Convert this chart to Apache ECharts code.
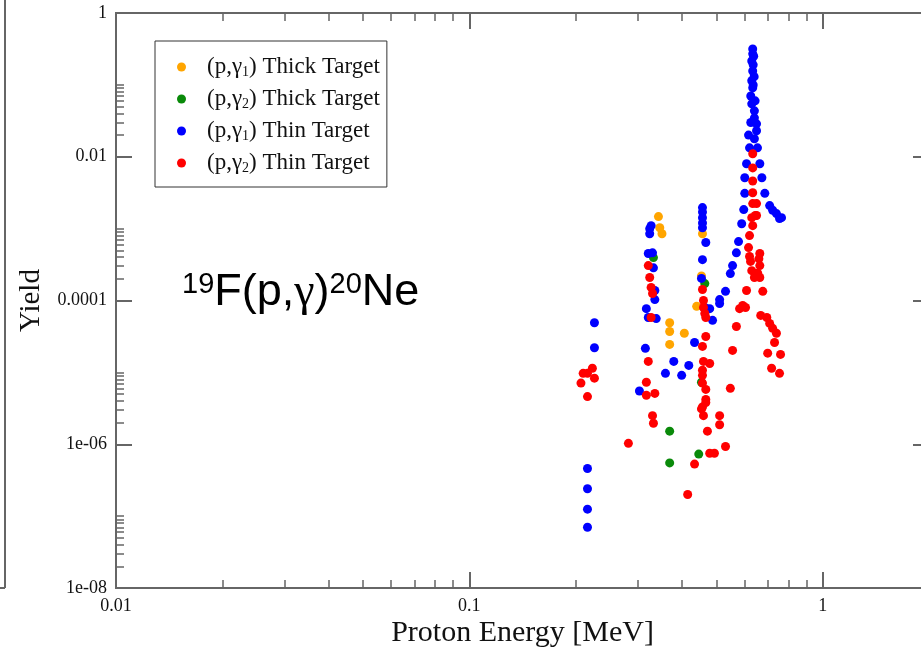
<!DOCTYPE html>
<html>
<head>
<meta charset="utf-8">
<script src="https://cdn.jsdelivr.net/npm/echarts@6/dist/echarts.min.js"></script>
<style>
  html, body { margin: 0; padding: 0; background: #fff; }
  #chart { width: 921px; height: 651px; }
</style>
</head>
<body>
<div id="chart"></div>
<script>
// series names (legend order)
var seriesNames = ['(p,γ1) Thick Target', '(p,γ2) Thick Target', '(p,γ1) Thin Target', '(p,γ2) Thin Target'];
var seriesColors = ['#ffa500', '#0a8a0a', '#0000ff', '#ff0000'];

// [proton energy MeV, yield]
var thickG1 = [
    [0.343, 1.47e-3], [0.346, 1.03e-3], [0.351, 8.5e-4], [0.369, 4.9e-5], [0.369, 3.7e-5],
    [0.369, 2.45e-5], [0.406, 3.5e-5], [0.457, 8.5e-4], [0.454, 2.2e-4], [0.440, 8.3e-5]
];
var thickG2 = [
    [0.332, 3.95e-4], [0.464, 1.72e-4], [0.454, 7.3e-6], [0.369, 1.52e-6], [0.369, 5.5e-7], [0.446, 7.3e-7]
];
var thinG1 = [
    [0.226, 4.9e-5], [0.226, 2.2e-5], [0.216, 4.6e-7], [0.216, 2.4e-7], [0.216, 1.25e-7], [0.216, 7e-8],
    [0.324, 1.0e-3], [0.324, 8.5e-4], [0.327, 1.1e-3], [0.321, 4.5e-4], [0.330, 4.6e-4], [0.332, 2.85e-4],
    [0.335, 1.38e-4], [0.335, 1.03e-4], [0.317, 7.7e-5], [0.321, 5.8e-5], [0.338, 5.6e-5], [0.315, 2.16e-5],
    [0.303, 5.5e-6],
    [0.359, 9.7e-6], [0.379, 1.42e-5], [0.399, 9.1e-6], [0.418, 1.25e-5], [0.434, 2.6e-5],
    [0.457, 1.96e-3], [0.457, 1.7e-3], [0.457, 1.42e-3], [0.457, 1.2e-3], [0.457, 1.03e-3], [0.467, 6.4e-4],
    [0.457, 3.7e-4], [0.454, 2.03e-4], [0.464, 8.0e-5], [0.479, 7.7e-5], [0.488, 5.3e-5],
    [0.511, 1.03e-4], [0.511, 9.1e-5], [0.531, 1.34e-4], [0.548, 2.37e-4], [0.556, 3.06e-4], [0.570, 4.6e-4],
    [0.578, 6.6e-4], [0.590, 1.17e-3], [0.598, 1.84e-3],
    [0.602, 3.1e-3], [0.602, 5.1e-3], [0.609, 8.0e-3], [0.621, 1.33e-2], [0.617, 0.02], [0.626, 0.03],
    [0.634, 0.316], [0.634, 0.27], [0.638, 0.25], [0.630, 0.215], [0.636, 0.19], [0.634, 0.156],
    [0.640, 0.13], [0.630, 0.114], [0.636, 0.10], [0.634, 0.091], [0.626, 0.070], [0.644, 0.06],
    [0.630, 0.0545], [0.641, 0.0435], [0.641, 0.0348], [0.650, 0.0287], [0.650, 0.023], [0.641, 0.0178],
    [0.654, 0.0133], [0.664, 8.0e-3], [0.673, 5.1e-3], [0.686, 3.1e-3], [0.708, 2.09e-3], [0.722, 1.8e-3],
    [0.740, 1.62e-3], [0.755, 1.38e-3], [0.765, 1.42e-3]
];
var thinG2 = [
    [0.210, 9.7e-6], [0.216, 9.7e-6], [0.223, 1.14e-5], [0.226, 8.3e-6], [0.207, 7.1e-6], [0.216, 4.6e-6],
    [0.282, 1.03e-6],
    [0.321, 3.06e-4], [0.324, 2.09e-4], [0.327, 1.52e-4], [0.330, 1.25e-4], [0.327, 5.8e-5], [0.321, 1.42e-5],
    [0.317, 7.3e-6], [0.317, 4.8e-6], [0.335, 5.1e-6], [0.330, 2.5e-6], [0.332, 1.96e-6],
    [0.457, 1.42e-4], [0.460, 1.0e-4], [0.460, 8.0e-5], [0.464, 6.6e-5], [0.467, 5.8e-5], [0.467, 3.16e-5],
    [0.457, 2.3e-5], [0.460, 1.42e-5], [0.479, 1.33e-5], [0.457, 1.07e-5], [0.457, 9.1e-6], [0.457, 7.1e-6],
    [0.467, 5.8e-6], [0.467, 4.2e-6], [0.467, 3.8e-6], [0.457, 3.3e-6], [0.454, 3.1e-6], [0.460, 2.5e-6],
    [0.472, 1.52e-6], [0.511, 2.5e-6], [0.511, 1.87e-6], [0.479, 7.5e-7], [0.494, 7.5e-7], [0.531, 9.3e-7],
    [0.434, 5.3e-7], [0.415, 2.0e-7],
    [0.548, 6.0e-6], [0.556, 2.02e-5], [0.570, 4.35e-5], [0.582, 7.7e-5], [0.594, 8.55e-5], [0.605, 8.0e-5],
    [0.609, 1.38e-4], [0.677, 1.34e-4], [0.617, 5.45e-4], [0.621, 4.1e-4], [0.625, 3.5e-4], [0.630, 2.6e-4],
    [0.641, 2.09e-4], [0.655, 2.4e-4], [0.660, 3.8e-4], [0.664, 4.5e-4], [0.664, 3.06e-4], [0.664, 2.09e-4],
    [0.630, 1.42e-3], [0.634, 1.1e-3], [0.650, 1.52e-3], [0.621, 8.0e-4], [0.634, 2.23e-3], [0.650, 2.23e-3],
    [0.634, 0.011], [0.634, 7.0e-3], [0.634, 4.6e-3], [0.634, 3.16e-3], [0.645, 1.52e-3],
    [0.668, 6.2e-5], [0.695, 5.8e-5], [0.708, 4.8e-5], [0.722, 4.1e-5], [0.740, 3.5e-5], [0.731, 2.6e-5],
    [0.699, 1.85e-5], [0.760, 1.78e-5], [0.717, 1.14e-5], [0.755, 9.7e-6]
];

// ticks and labels
var xMajorTicks = [0.01, 0.1, 1];
var xTickLabels = ['0.01', '0.1', '1'];
var xMinorTicks = [0.02, 0.03, 0.04, 0.05, 0.06, 0.07, 0.08, 0.09, 0.2, 0.3, 0.4, 0.5, 0.6, 0.7, 0.8, 0.9];
var yMajorTicks = [1, 0.01, 1e-4, 1e-6, 1e-8];
var yTickLabels = ['1', '0.01', '0.0001', '1e-06', '1e-08'];
var yMinorMult = [2, 3, 4, 5, 6, 7, 8, 9, 10];
var yMinorBase = [1e-8, 1e-6, 1e-4, 1e-2];
var yMinorTicks = [];
yMinorBase.forEach(function(b) {
    yMinorMult.forEach(function(m) { yMinorTicks.push(m * b); });
});

var xMin = 0.01, xMax = 2, yMin = 1e-8, yMax = 1;

var lg = function(v) { return Math.log10(v); };
var axisColor = '#666';
var serif = 'Liberation Serif';

function labelFor(ticks, labels) {
    return function(v) {
        for (var i = 0; i < ticks.length; i++) {
            if (Math.abs(lg(ticks[i]) - v) < 1e-6) return labels[i];
        }
        return '';
    };
}

// helper for the tick-only axes, drawn in log10 space
function tickAxis(dim, position, ticks, len, width, withLabels, labels) {
    var ax = {
        type: 'value',
        position: position,
        min: dim === 'x' ? lg(xMin) : lg(yMin),
        max: dim === 'x' ? lg(xMax) : lg(yMax),
        axisLine: { show: false, onZero: false },
        splitLine: { show: false },
        axisTick: {
            show: true,
            inside: true,
            length: len,
            customValues: ticks.map(lg),
            lineStyle: { color: axisColor, width: width }
        },
        axisLabel: { show: false }
    };
    if (withLabels) {
        ax.axisLabel = {
            show: true,
            customValues: ticks.map(lg),
            formatter: labelFor(ticks, labels),
            fontFamily: serif,
            fontSize: 18,
            color: '#111',
            margin: 9
        };
    }
    return ax;
}

var myChart = echarts.init(document.getElementById('chart'));

var option = {
    animation: false,
    backgroundColor: '#fff',
    grid: {
        left: 116,
        top: 13,
        width: 813,
        height: 575,
        outerBoundsMode: 'none',
        containLabel: false,
        show: true,
        borderColor: axisColor,
        borderWidth: 2,
        backgroundColor: 'transparent'
    },
    legend: {
        orient: 'vertical',
        left: 155,
        top: 41,
        padding: [14, 7, 12, 22],
        itemGap: 8,
        itemWidth: 9,
        itemHeight: 9,
        icon: 'circle',
        borderColor: '#333',
        borderWidth: 1,
        backgroundColor: '#fff',
        data: seriesNames,
        formatter: function(name) {
            return '{gap|}' + name.replace(/γ(\d)/, 'γ{sub|$1}');
        },
        textStyle: {
            fontFamily: serif,
            fontSize: 23,
            lineHeight: 24,
            color: '#111',
            rich: {
                gap: { width: 16 },
                sub: { fontFamily: serif, fontSize: 14, lineHeight: 10, verticalAlign: 'bottom' }
            }
        }
    },
    xAxis: [
        {
            type: 'log',
            logBase: 10,
            min: xMin,
            max: xMax,
            position: 'bottom',
            axisLine: { show: false, onZero: false },
            axisTick: { show: false },
            axisLabel: { show: false },
            splitLine: { show: false },
            name: 'Proton Energy [MeV]',
            nameLocation: 'middle',
            nameGap: 30,
            nameTextStyle: { fontFamily: serif, fontSize: 30, color: '#111' }
        },
        tickAxis('x', 'bottom', xMajorTicks, 16, 2, true, xTickLabels),
        tickAxis('x', 'bottom', xMinorTicks, 8, 1.5, false),
        tickAxis('x', 'top', xMajorTicks, 16, 2, false),
        tickAxis('x', 'top', xMinorTicks, 8, 1.5, false)
    ],
    yAxis: [
        {
            type: 'log',
            logBase: 10,
            min: yMin,
            max: yMax,
            position: 'left',
            axisLine: { show: false, onZero: false },
            axisTick: { show: false },
            axisLabel: { show: false },
            splitLine: { show: false },
            name: 'Yield',
            nameLocation: 'middle',
            nameGap: 70,
            nameTextStyle: { fontFamily: serif, fontSize: 29, color: '#111' }
        },
        tickAxis('y', 'left', yMajorTicks, 16, 2, true, yTickLabels),
        tickAxis('y', 'left', yMinorTicks, 8, 1.5, false),
        tickAxis('y', 'right', yMajorTicks, 16, 2, false),
        tickAxis('y', 'right', yMinorTicks, 8, 1.5, false)
    ],
    graphic: [
        {
            type: 'text',
            left: 182,
            top: 270,
            z: 100,
            style: {
                text: '{sup|19}F(p,{g|γ}){sup|20}Ne',
                fontFamily: 'Liberation Sans',
                fontSize: 45,
                fill: '#000',
                rich: {
                    sup: { fontFamily: 'Liberation Sans', fontSize: 29, lineHeight: 26, verticalAlign: 'top', fill: '#000' },
                    g: { fontFamily: 'Liberation Serif', fontSize: 46, fill: '#000' }
                }
            }
        },
        {
            // edge of the neighbouring panel
            type: 'line',
            shape: { x1: 5, y1: 0, x2: 5, y2: 588 },
            style: { stroke: axisColor, lineWidth: 2 }
        },
        {
            type: 'line',
            shape: { x1: 0, y1: 588, x2: 5, y2: 588 },
            style: { stroke: axisColor, lineWidth: 2 }
        }
    ],
    series: [thickG1, thickG2, thinG1, thinG2].map(function(d, i) {
        return {
            name: seriesNames[i],
            type: 'scatter',
            xAxisIndex: 0,
            yAxisIndex: 0,
            data: d,
            symbol: 'circle',
            symbolSize: 9,
            itemStyle: { color: seriesColors[i], opacity: 1 }
        };
    })
};

myChart.setOption(option);
</script>
</body>
</html>
